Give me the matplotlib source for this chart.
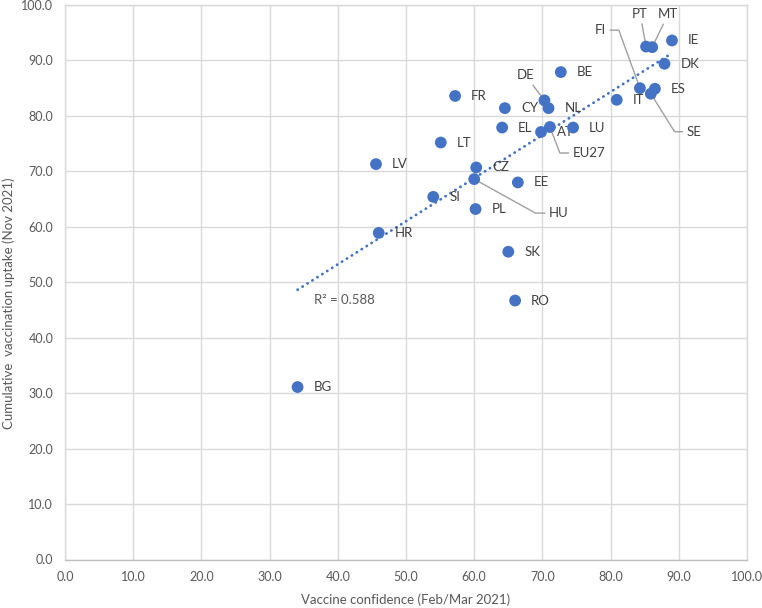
#Vaccine confidence vs cumulative vaccination uptake, EU member states

#Libraries
import numpy as np
import matplotlib.pyplot as plt

#Data
countries = ['BG', 'FR', 'CY', 'DE', 'NL', 'EL', 'AT', 'EU27', 'LU', 'LT',
             'LV', 'CZ', 'HU', 'EE', 'SI', 'PL', 'HR', 'SK', 'RO', 'BE',
             'IT', 'FI', 'ES', 'SE', 'PT', 'MT', 'IE', 'DK']
confidence = [34.1, 57.2, 64.5, 70.3, 70.9, 64.1, 69.8, 71.1, 74.5, 55.1,
              45.6, 60.3, 60.0, 66.4, 54.0, 60.2, 46.0, 65.0, 66.0, 72.7,
              80.9, 84.3, 86.5, 85.9, 85.2, 86.1, 89.0, 87.9]
uptake = [31.1, 83.6, 81.4, 82.8, 81.4, 77.9, 77.1, 78.0, 77.9, 75.2,
          71.3, 70.7, 68.6, 68.0, 65.4, 63.2, 58.9, 55.5, 46.7, 87.9,
          82.9, 85.0, 84.9, 84.0, 92.5, 92.4, 93.6, 89.4]
r2_text = 'R\u00b2 = 0.588'

#Config
BLUE = '#4472C4'
GRID = '#d9d9d9'
TXT = '#595959'
LBL = '#404040'
LEADER = '#a0a0a0'
plt.rcParams['font.family'] = ['Lato', 'DejaVu Sans']

#Labels that sit away from their point, joined by a leader line
#(dx px, dy px, horizontal alignment, connection style)
leaders = {
    'DE': (-19, 25, 'center', 'arc3'),
    'PT': (-6, 33, 'center', 'arc3'),
    'MT': (16, 33, 'center', 'arc3'),
    'EU27': (23, -26, 'left', 'angle,angleA=0,angleB=111,rad=0'),
    'HU': (75, -34, 'left', 'angle,angleA=0,angleB=-29,rad=0'),
    'FI': (-34, 58, 'right', 'angle,angleA=0,angleB=110,rad=0'),
    'SE': (36, -38, 'left', 'angle,angleA=0,angleB=-58,rad=0'),
}


def main():
    fig = plt.figure(figsize=(7.62, 6.08), dpi=100)
    ax = fig.add_axes([65 / 762, (608 - 559.5) / 608, 682 / 762, 554.5 / 608])

    x = np.array(confidence)
    y = np.array(uptake)

    # linear trendline over the data range
    slope, intercept = np.polyfit(x, y, 1)
    xs = np.array([x.min(), x.max()])
    ax.plot(xs, slope * xs + intercept, color=BLUE, lw=2,
            linestyle=(0, (0.1, 2.0)), dash_capstyle='round', zorder=2)

    ax.scatter(x, y, s=72, color=BLUE, edgecolors='none', zorder=4)

    # data labels
    for name, cx, cy in zip(countries, x, y):
        if name in leaders:
            dx, dy, ha, style = leaders[name]
            ax.annotate(name, xy=(cx, cy), xytext=(dx, dy), textcoords='offset pixels',
                        ha=ha, va='center', fontsize=9.5, color=LBL, zorder=3,
                        arrowprops=dict(arrowstyle='-', color=LEADER, lw=1,
                                        connectionstyle=style, shrinkA=1, shrinkB=4))
        else:
            ax.annotate(name, xy=(cx, cy), xytext=(16, 0), textcoords='offset pixels',
                        ha='left', va='center', fontsize=9.5, color=LBL, zorder=3)

    ax.text(36.5, 46.8, r2_text, fontsize=9.5, color=TXT, ha='left', va='center')

    # axes
    ax.set_xlim(0, 100)
    ax.set_ylim(0, 100)
    ax.set_xticks(np.arange(0, 101, 10))
    ax.set_yticks(np.arange(0, 101, 10))
    ax.set_xticklabels([f'{v:.1f}' for v in np.arange(0, 101, 10)])
    ax.set_yticklabels([f'{v:.1f}' for v in np.arange(0, 101, 10)])
    ax.tick_params(axis='both', length=0, labelsize=9, labelcolor=TXT)
    ax.tick_params(axis='x', pad=8)
    ax.tick_params(axis='y', pad=8.5)
    ax.grid(True, color=GRID, lw=1)
    ax.set_axisbelow(True)
    for side in ['top', 'right', 'left']:
        ax.spines[side].set_color(GRID)
        ax.spines[side].set_linewidth(1)
    ax.spines['bottom'].set_color('#bfbfbf')
    ax.spines['bottom'].set_linewidth(1)

    ax.set_xlabel('Vaccine confidence (Feb/Mar 2021)', fontsize=9.5, color=TXT, va='center')
    ax.set_ylabel('Cumulative  vaccination uptake (Nov 2021)', fontsize=9.5, color=TXT, va='center')
    ax.xaxis.set_label_coords(0.5, -(600 - 559.5) / 554.5)
    ax.yaxis.set_label_coords(-(65 - 9) / 682, (559.5 - 303) / 554.5)

    fig.savefig('out.png', dpi=100)
    plt.close(fig)


if __name__ == "__main__":
    main()
